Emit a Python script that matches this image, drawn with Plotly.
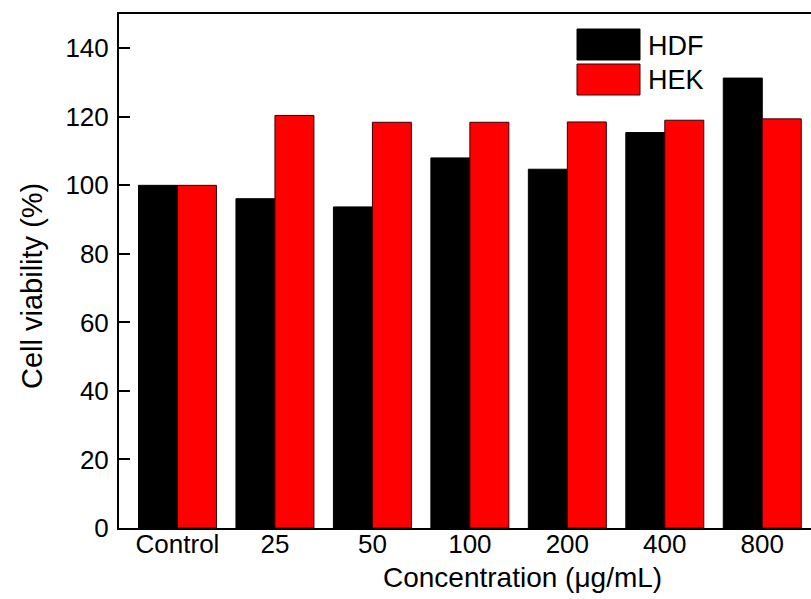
import plotly.graph_objects as go

categories = ["Control", "25", "50", "100", "200", "400", "800"]
hdf = [100.0, 96.1, 93.7, 108.0, 104.7, 115.4, 131.3]
hek = [100.0, 120.4, 118.4, 118.4, 118.5, 119.0, 119.4]
series_names = ["HDF", "HEK"]
y_ticks = [0, 20, 40, 60, 80, 100, 120, 140]

W, H = 811, 599
ml, mt, mb, mr = 119, 14, 71, 0
pw, ph = W - ml - mr, H - mt - mb

FONT = "Liberation Sans, Arial, sans-serif"

fig = go.Figure()
fig.add_trace(go.Bar(x=list(range(len(categories))), y=hdf, name=series_names[0],
                     marker=dict(color="#000000", line=dict(color="#000000", width=1))))
fig.add_trace(go.Bar(x=list(range(len(categories))), y=hek, name=series_names[1],
                     marker=dict(color="#FF0000", line=dict(color="#3a0000", width=1))))

def px_to_paper(x, y):
    return (x - ml) / pw, (H - mb - y) / ph

shapes = []
annotations = []
for i, (name, col, lc) in enumerate(zip(series_names, ["#000000", "#FF0000"], ["#000000", "#3a0000"])):
    y0p, y1p = (29 + 35 * i, 60 + 35 * i)
    x0, y0 = px_to_paper(577, y1p)
    x1, y1 = px_to_paper(640, y0p)
    shapes.append(dict(type="rect", xref="paper", yref="paper", x0=x0, x1=x1, y0=y0, y1=y1,
                       fillcolor=col, line=dict(color=lc, width=1)))
    tx, ty = px_to_paper(646, (y0p + y1p) / 2 + 1)
    annotations.append(dict(xref="paper", yref="paper", x=tx, y=ty, text=name, showarrow=False,
                            xanchor="left", yanchor="middle",
                            font=dict(family=FONT, size=27, color="#000000")))

# axis titles as annotations for exact placement
tx, ty = px_to_paper(522, 577)
annotations.append(dict(xref="paper", yref="paper", x=tx, y=ty, text="Concentration (μg/mL)",
                        showarrow=False, xanchor="center", yanchor="middle",
                        font=dict(family=FONT, size=28, color="#000000")))
tx, ty = px_to_paper(32, 286)
annotations.append(dict(xref="paper", yref="paper", x=tx, y=ty, text="Cell viability (%)",
                        showarrow=False, xanchor="center", yanchor="middle", textangle=-90,
                        font=dict(family=FONT, size=29, color="#000000")))

fig.update_layout(
    width=W, height=H,
    margin=dict(l=ml, r=mr, t=mt, b=mb, pad=0, autoexpand=False),
    paper_bgcolor="white", plot_bgcolor="white",
    barmode="group", bargap=0.2, bargroupgap=0.0,
    showlegend=False,
    font=dict(family=FONT, color="#000000"),
    shapes=shapes, annotations=annotations,
    xaxis=dict(
        range=[-0.6, 6.5],
        tickmode="array", tickvals=list(range(len(categories))), ticktext=categories,
        ticks="outside", ticklen=0, showgrid=False, zeroline=False,
        showline=True, linecolor="#000000", linewidth=2, mirror=True,
        tickfont=dict(family=FONT, size=26, color="#000000"),
        ticklabelstandoff=-8,
        automargin=False,
    ),
    yaxis=dict(
        range=[0, 150],
        tickmode="array", tickvals=y_ticks,
        ticks="inside", ticklen=11, tickwidth=2, tickcolor="#000000",
        showgrid=False, zeroline=False,
        showline=True, linecolor="#000000", linewidth=2, mirror=False,
        tickfont=dict(family=FONT, size=26, color="#000000"),
        ticklabelstandoff=3,
        automargin=False,
    ),
)

fig.write_html("out.html", config={"displayModeBar": False},
               post_script="document.body.style.margin='0';document.body.style.padding='0';")
